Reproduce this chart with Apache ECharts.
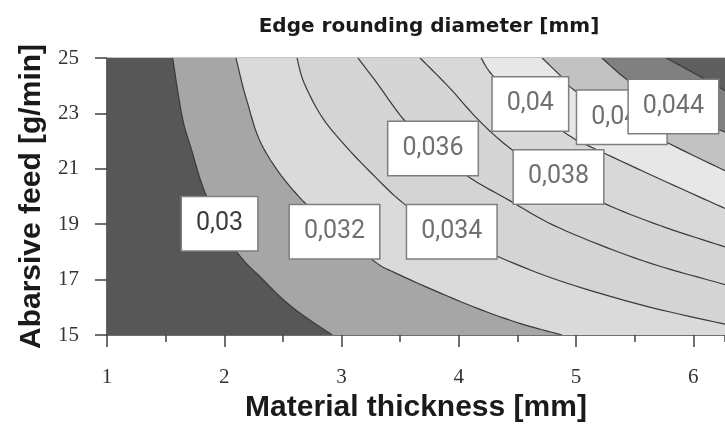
<!DOCTYPE html>
<html><head><meta charset="utf-8">
<script src="https://cdn.jsdelivr.net/npm/echarts@6/dist/echarts.min.js"></script>
<style>html,body{margin:0;padding:0;background:#fff}#c{width:725px;height:428px}</style>
</head><body><div id="c"></div>
<script>
// ---- data (x = material thickness [mm], y = abrasive feed [g/min]) ----
const xMin = 1, xMax = 6.27, yMin = 15, yMax = 25;
const levels = [0.030, 0.032, 0.034, 0.036, 0.038, 0.040, 0.042, 0.044, 0.046];
// contour lines, each traced from the top edge (feed 25) downwards/rightwards
const c030 = [[1.56,25],[1.64,22.9],[1.72,21.7],[1.85,20.0],[2.09,18.1],[2.33,17.0],[2.58,16.0],[2.92,15]];
const c032 = [[2.10,25],[2.19,23.5],[2.34,21.7],[2.68,19.8],[3.24,17.79],[3.49,17.18],[4.07,16.11],[4.49,15.46],[4.88,15]];
const c034 = [[2.62,25],[2.68,24.11],[2.83,22.89],[3.02,21.89],[3.26,20.82],[3.55,19.68],[3.92,18.71],[4.32,17.86],[4.86,16.96],[5.57,16.07],[6.27,15.39]];
const c036 = [[3.14,25],[3.30,24.11],[3.55,22.68],[3.81,21.71],[4.07,20.75],[4.43,19.86],[4.86,18.86],[5.57,17.68],[6.27,16.82]];
const c038 = [[3.67,25],[3.92,23.93],[4.18,22.71],[4.47,21.64],[4.86,20.64],[5.22,19.79],[5.71,18.96],[6.27,18.18]];
const c040 = [[4.19,25],[4.30,24.32],[4.60,23.21],[5.00,22.04],[5.11,21.82],[5.71,20.64],[6.27,19.57]];
const c042 = [[4.71,25],[4.86,24.39],[5.00,23.79],[5.37,22.86],[5.77,21.96],[6.27,20.93]];
const c044 = [[5.22,25],[5.47,24.11],[5.88,23.07],[6.27,22.32]];
const c046 = [[5.77,25],[6.14,24.14],[6.27,23.82]];
const contours = [c030, c032, c034, c036, c038, c040, c042, c044, c046];
// contour labels: text and anchor (data units)
const labelTexts = ['0,03', '0,032', '0,034', '0,036', '0,038', '0,04', '0,042', '0,044'];
const labelAnchors = [[1.96,19.02],[2.94,18.73],[3.94,18.73],[3.78,21.73],[4.85,20.70],[4.61,23.34],[5.39,22.86],[5.83,23.25]];

// ---- styles ----
const baseColor = '#575757';
const bandColors = ['#a6a6a6','#dadada','#d4d4d4','#d5d5d5','#d8d8d8','#e7e7e7','#c2c2c2','#808080','#5f5f5f'];
const lineColor = '#3a3a3a';

function smoothPath(pts) {
  // Catmull-Rom through pixel points
  const out = [];
  const n = pts.length;
  for (let i = 0; i < n - 1; i++) {
    const p0 = pts[Math.max(0, i - 1)], p1 = pts[i], p2 = pts[i + 1], p3 = pts[Math.min(n - 1, i + 2)];
    const steps = 10;
    for (let s = 0; s < steps; s++) {
      const t = s / steps, t2 = t * t, t3 = t2 * t;
      out.push([
        0.5 * (2 * p1[0] + (-p0[0] + p2[0]) * t + (2 * p0[0] - 5 * p1[0] + 4 * p2[0] - p3[0]) * t2 + (-p0[0] + 3 * p1[0] - 3 * p2[0] + p3[0]) * t3),
        0.5 * (2 * p1[1] + (-p0[1] + p2[1]) * t + (2 * p0[1] - 5 * p1[1] + 4 * p2[1] - p3[1]) * t2 + (-p0[1] + 3 * p1[1] - 3 * p2[1] + p3[1]) * t3)
      ]);
    }
  }
  out.push(pts[n - 1]);
  return out;
}

const bandData = [-1].concat(contours.map((c, i) => i));

function renderBand(params, api) {
  const idx = api.value(0);
  if (idx < 0) {
    const p = [[xMin, yMax], [xMax, yMax], [xMax, yMin], [xMin, yMin]].map(d => api.coord(d));
    return { type: 'polygon', shape: { points: p }, style: { fill: baseColor, stroke: null } };
  }
  const c = contours[idx];
  const px = smoothPath(c.map(d => api.coord(d)));
  const last = c[c.length - 1];
  const extra = last[1] <= yMin + 1e-6 ? [[xMax + 0.05, yMin - 0.1], [xMax + 0.05, yMax + 0.1]] : [[xMax + 0.05, last[1]], [xMax + 0.05, yMax + 0.1]];
  const poly = px.concat(extra.map(d => api.coord(d)));
  poly.push(api.coord([c[0][0], yMax + 0.1]));
  return {
    type: 'group',
    children: [
      { type: 'polygon', shape: { points: poly }, style: { fill: bandColors[idx], stroke: null } },
      { type: 'polyline', shape: { points: px }, style: { stroke: lineColor, lineWidth: 1.2, fill: null } }
    ]
  };
}

const chart = echarts.init(document.getElementById('c'), null, { renderer: 'canvas' });
const axisFont = 'Liberation Serif';
chart.setOption({
  animation: false,
  backgroundColor: '#ffffff',
  title: {
    text: 'Edge rounding diameter [mm]',
    left: 424, top: 12, textAlign: 'center',
    textStyle: { fontFamily: 'DejaVu Sans', fontWeight: 'bold', fontSize: 20, color: '#1a1a1a' }
  },
  grid: { left: 107, right: 0, top: 58, bottom: 90, containLabel: false },
  xAxis: [
    {
      type: 'value', min: xMin, max: xMax, interval: 1, position: 'bottom',
      axisLine: { lineStyle: { color: '#404040', width: 1.5 } },
      axisTick: { length: 12, lineStyle: { color: '#404040', width: 1.5 } },
      axisLabel: { fontFamily: axisFont, fontSize: 21, color: '#333', margin: 32, showMaxLabel: false },
      splitLine: { show: false },
      name: 'Material thickness [mm]', nameLocation: 'middle', nameGap: 58,
      nameTextStyle: { fontFamily: 'Liberation Sans', fontWeight: 'bold', fontSize: 30, color: '#1a1a1a' }
    },
    {
      type: 'value', min: xMin, max: xMax, interval: 0.5, position: 'bottom',
      axisLine: { show: false },
      axisTick: { length: 7, lineStyle: { color: '#404040', width: 1.5 } },
      axisLabel: { show: false }, splitLine: { show: false }
    },
    {
      type: 'value', min: xMin, max: xMax, position: 'top',
      axisLine: { lineStyle: { color: '#c4c4c4', width: 2 } },
      axisTick: { show: false }, axisLabel: { show: false }, splitLine: { show: false }
    }
  ],
  yAxis: {
    type: 'value', min: yMin, max: yMax, interval: 2,
    axisLine: { show: true, lineStyle: { color: '#303030', width: 1.5 } },
    axisTick: { show: true, length: 12, lineStyle: { color: '#404040', width: 1.5 } },
    axisLabel: { fontFamily: axisFont, fontSize: 21, color: '#333', margin: 28 },
    splitLine: { show: false },
    name: 'Abarsive feed [g/min]', nameLocation: 'middle', nameGap: 58, nameRotate: 90,
    nameTextStyle: { fontFamily: 'Liberation Sans', fontWeight: 'bold', fontSize: 30, color: '#1a1a1a' }
  },
  series: [
    {
      type: 'custom', xAxisIndex: 0, yAxisIndex: 0, clip: true, silent: true,
      data: bandData.map(v => [v]), encode: { x: -1, y: -1 },
      renderItem: renderBand, z: 1
    },
    {
      type: 'scatter', xAxisIndex: 0, yAxisIndex: 0, silent: true, symbolSize: 0, z: 5,
      itemStyle: { opacity: 1 },
      data: labelAnchors.map((a, i) => ({
        value: [a[0], a[1]], name: labelTexts[i],
        label: i === 0 ? { color: '#3c3c3c' } : undefined
      })),
      label: {
        show: true, position: 'inside', formatter: p => p.name,
        fontFamily: 'Roboto', fontSize: 25, color: '#707070', lineHeight: 27,
        backgroundColor: '#ffffff', borderColor: '#7f7f7f', borderWidth: 1.5, padding: [13, 14]
      }
    }
  ]
});
</script>
</body></html>
